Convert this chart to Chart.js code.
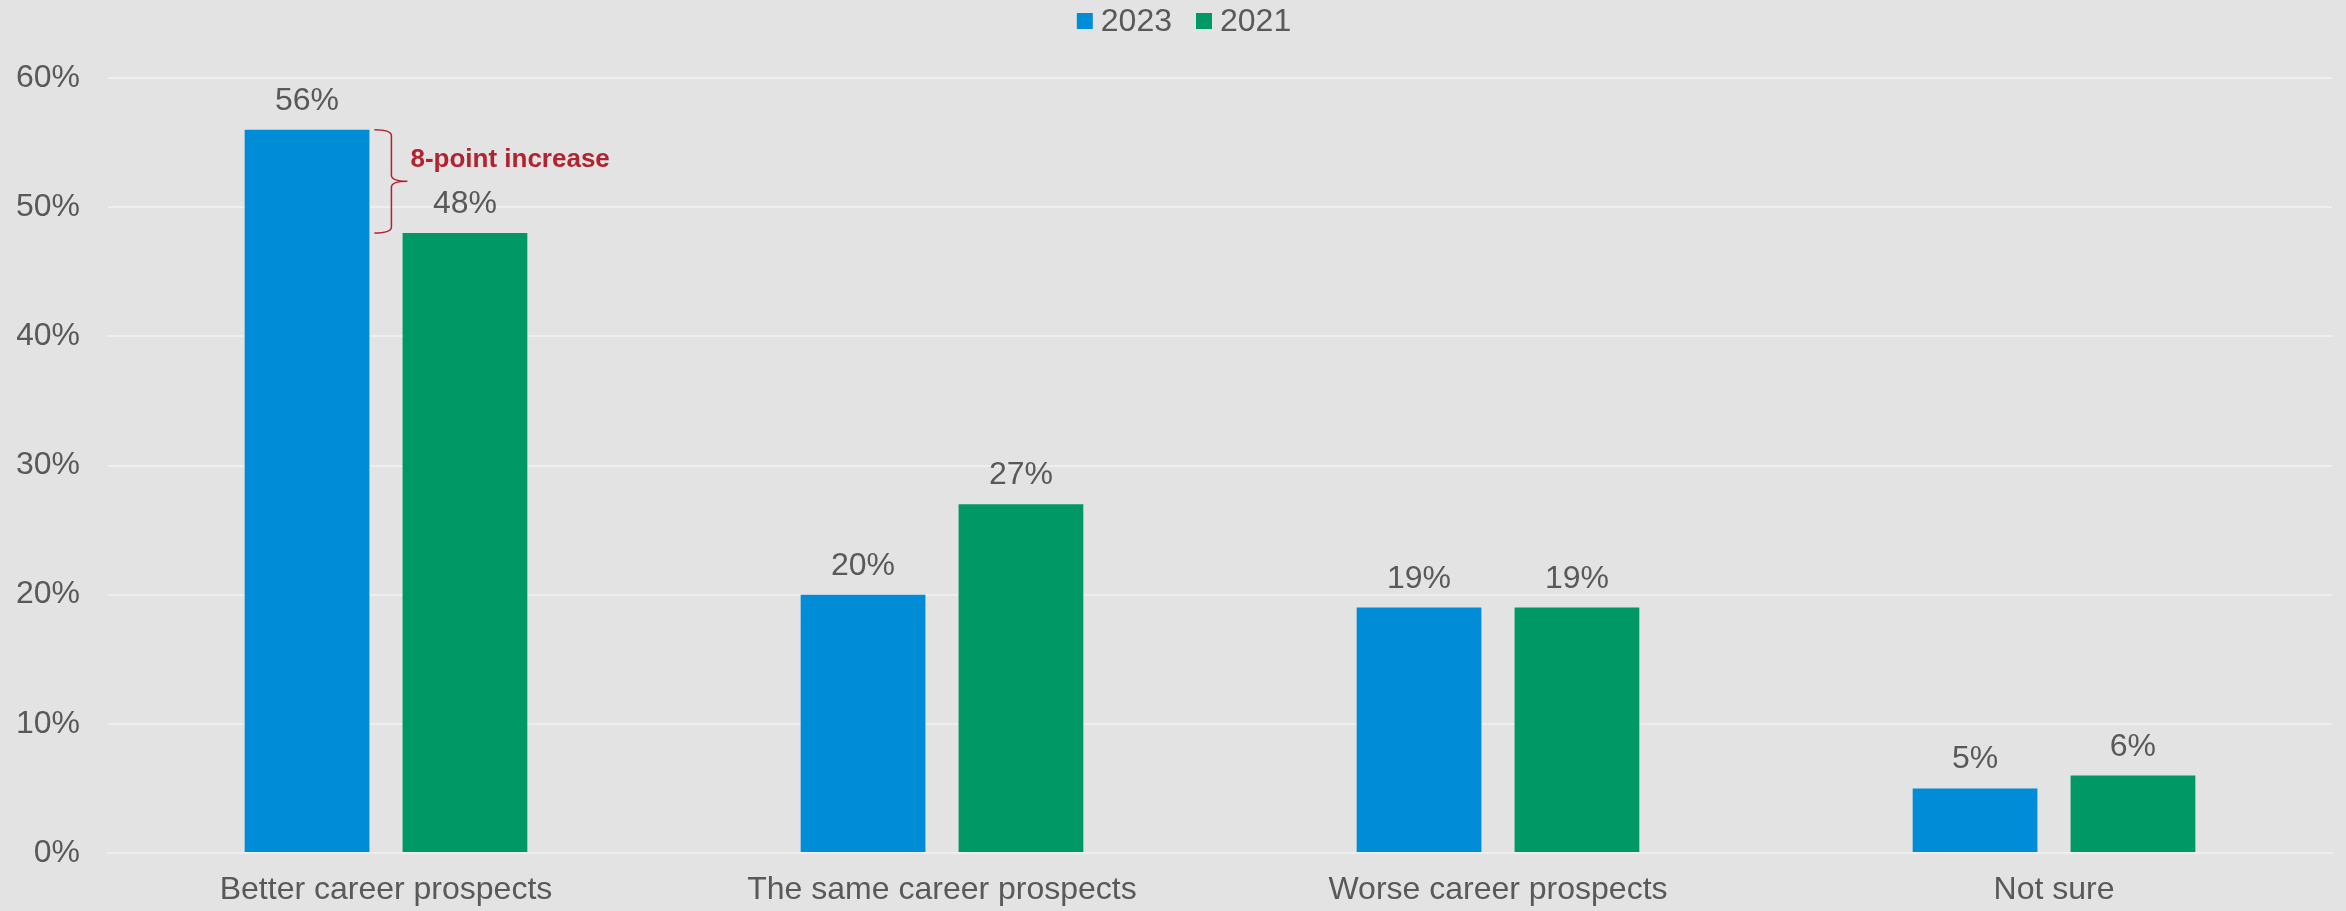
<!DOCTYPE html>
<html>
<head>
<meta charset="utf-8">
<script src="https://cdn.jsdelivr.net/npm/chart.js@4.4.1/dist/chart.umd.min.js"></script>
<style>
  html, body { margin: 0; padding: 0; background: #e3e3e3; }
  #wrap { width: 2346px; height: 911px; }
</style>
</head>
<body>
<div id="wrap"><canvas id="careerChart"></canvas></div>
<script>
// chart data
const categories = ['Better career prospects', 'The same career prospects', 'Worse career prospects', 'Not sure'];
const seriesNames = ['2023', '2021'];
const seriesColors = ['#008cd6', '#009865'];
const values2023 = [56, 20, 19, 5];
const values2021 = [48, 27, 19, 6];
const yTicks = [0, 10, 20, 30, 40, 50, 60];
const calloutText = '8-point increase';

const TEXT = '#595959';
const FONT = '"Liberation Sans", Arial, sans-serif';

// value labels above each bar
const barLabels = {
    id: 'barLabels',
    afterDatasetsDraw(chart) {
        const ctx = chart.ctx;
        ctx.save();
        ctx.font = '32px ' + FONT;
        ctx.fillStyle = TEXT;
        ctx.textAlign = 'center';
        ctx.textBaseline = 'alphabetic';
        chart.data.datasets.forEach((ds, i) => {
            chart.getDatasetMeta(i).data.forEach((bar, j) => {
                ctx.fillText(ds.data[j] + '%', bar.x, bar.y - 20);
            });
        });
        ctx.restore();
    }
};

// red curly brace + callout between the first pair
const callout = {
    id: 'callout',
    afterDatasetsDraw(chart) {
        const ctx = chart.ctx;
        const y = chart.scales.y;
        const bar = chart.getDatasetMeta(0).data[0];
        const top = y.getPixelForValue(values2023[0]);
        const bot = y.getPixelForValue(values2021[0]);
        const mid = (top + bot) / 2;
        const x0 = bar.x + bar.width / 2 + 5;
        const xv = x0 + 17;
        const xp = x0 + 33;
        const r = 6;
        ctx.save();
        ctx.strokeStyle = '#b22330';
        ctx.lineWidth = 1.5;
        ctx.beginPath();
        ctx.moveTo(x0, top);
        ctx.quadraticCurveTo(xv, top, xv, top + r);
        ctx.lineTo(xv, mid - r);
        ctx.quadraticCurveTo(xv, mid, xp, mid);
        ctx.quadraticCurveTo(xv, mid, xv, mid + r);
        ctx.lineTo(xv, bot - r);
        ctx.quadraticCurveTo(xv, bot, x0, bot);
        ctx.stroke();
        ctx.font = 'bold 26px ' + FONT;
        ctx.fillStyle = '#b22330';
        ctx.textAlign = 'left';
        ctx.fillText(calloutText, x0 + 36, mid - 14);
        ctx.restore();
    }
};

// legend drawn by hand: square, small gap, year
const topLegend = {
    id: 'topLegend',
    afterDraw(chart) {
        const ctx = chart.ctx;
        ctx.save();
        ctx.font = '32px ' + FONT;
        ctx.textBaseline = 'middle';
        const box = 16, gap = 8, between = 24;
        const widths = seriesNames.map(n => box + gap + ctx.measureText(n).width);
        const total = widths.reduce((a, b) => a + b, 0) + between * (widths.length - 1);
        let x = chart.width / 2 + 11 - total / 2;
        const cy = 21;
        seriesNames.forEach((name, i) => {
            ctx.fillStyle = seriesColors[i];
            ctx.fillRect(x, cy - box / 2, box, box);
            ctx.fillStyle = TEXT;
            ctx.fillText(name, x + box + gap, cy + 1);
            x += widths[i] + between;
        });
        ctx.restore();
    }
};

new Chart(document.getElementById('careerChart'), {
    type: 'bar',
    data: {
        labels: categories,
        datasets: [
            { label: seriesNames[0], data: values2023, backgroundColor: seriesColors[0] },
            { label: seriesNames[1], data: values2021, backgroundColor: seriesColors[1] }
        ]
    },
    options: {
        responsive: true,
        maintainAspectRatio: false,
        animation: false,
        categoryPercentage: 0.568,
        barPercentage: 0.79,
        layout: { padding: { left: 17, right: 14, top: 78, bottom: 0 } },
        plugins: {
            legend: { display: false },
            tooltip: { enabled: false }
        },
        scales: {
            x: {
                afterFit(scale) { scale.height = 58; },
                grid: { display: false, drawTicks: false },
                border: { display: true, color: '#eeeeee', width: 2 },
                ticks: { color: TEXT, font: { family: FONT, size: 32 }, padding: 18, maxRotation: 0 }
            },
            y: {
                min: 0,
                max: 60,
                afterFit(scale) { scale.width = 91; },
                afterBuildTicks(axis) { axis.ticks = yTicks.map(v => ({ value: v })); },
                grid: { color: '#eeeeee', lineWidth: 2, drawTicks: false },
                border: { display: false },
                ticks: {
                    color: TEXT,
                    font: { family: FONT, size: 32 },
                    padding: 28,
                    callback: v => v + '%'
                }
            }
        }
    },
    plugins: [barLabels, callout, topLegend]
});
</script>
</body>
</html>
